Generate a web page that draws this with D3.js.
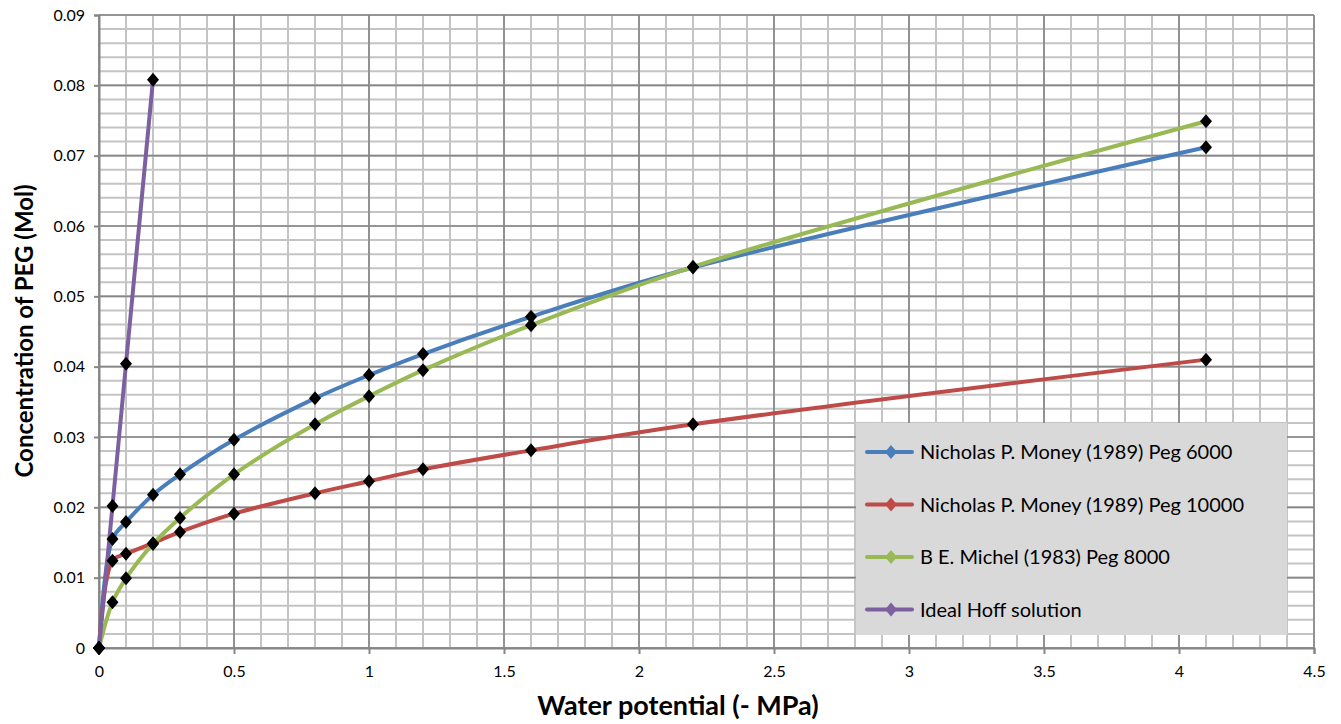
<!DOCTYPE html>
<html>
<head>
<meta charset="utf-8">
<script src="https://cdn.jsdelivr.net/npm/d3@7"></script>
<style>
  body { margin: 0; background: #fff; }
  svg { display: block; font-family: Lato, "Open Sans", sans-serif; }
</style>
</head>
<body>
<svg id="chart" width="1341" height="724"></svg>
<script>
const xPeg = [0, 0.05, 0.1, 0.2, 0.3, 0.5, 0.8, 1.0, 1.2, 1.6, 2.2, 4.1];
const peg6000 = [0, 0.0155, 0.0179, 0.0218, 0.0247, 0.0296, 0.0355, 0.0388, 0.0418, 0.0471, 0.0541, 0.0712];
const peg10000 = [0, 0.0124, 0.0134, 0.0149, 0.0165, 0.0191, 0.0220, 0.0237, 0.0254, 0.0281, 0.0318, 0.0410];
const peg8000 = [0, 0.0065, 0.0099, 0.0148, 0.0185, 0.0247, 0.0318, 0.0358, 0.0395, 0.0459, 0.0542, 0.0749];
const xHoff = [0, 0.05, 0.1, 0.2];
const hoff = [0, 0.0202, 0.0404, 0.0808];
const seriesNames = ["Nicholas P. Money (1989) Peg 6000", "Nicholas P. Money (1989) Peg 10000", "B E. Michel (1983) Peg 8000", "Ideal Hoff solution"];
const seriesColors = ["#4a7ebb", "#be4b48", "#98b954", "#7d60a0"];
const xTicks = [0, 0.5, 1, 1.5, 2, 2.5, 3, 3.5, 4, 4.5];
const yTicks = [0, 0.01, 0.02, 0.03, 0.04, 0.05, 0.06, 0.07, 0.08, 0.09];

const series = [
  {name: seriesNames[0], color: seriesColors[0], xs: xPeg, ys: peg6000},
  {name: seriesNames[1], color: seriesColors[1], xs: xPeg, ys: peg10000},
  {name: seriesNames[2], color: seriesColors[2], xs: xPeg, ys: peg8000},
  {name: seriesNames[3], color: seriesColors[3], xs: xHoff, ys: hoff}
];

const svg = d3.select("#chart");
const L = 99, R = 1314, T = 15, B = 648;
const x = d3.scaleLinear().domain([0, 4.5]).range([L, R]);
const y = d3.scaleLinear().domain([0, 0.09]).range([B, T]);

// minor grid
const minorX = d3.range(0, 4.5001, 0.1).map(v => +v.toFixed(2));
const minorY = d3.range(0, 0.09001, 0.002).map(v => +v.toFixed(4));
const g = svg.append("g");
g.selectAll(".mx").data(minorX).enter().append("line")
  .attr("x1", d => x(d)).attr("x2", d => x(d)).attr("y1", T).attr("y2", B)
  .attr("stroke", "#c4c4c4").attr("stroke-width", 2);
g.selectAll(".my").data(minorY).enter().append("line")
  .attr("x1", L).attr("x2", R).attr("y1", d => y(d)).attr("y2", d => y(d))
  .attr("stroke", "#c4c4c4").attr("stroke-width", 2);
// major grid
g.selectAll(".Mx").data(xTicks).enter().append("line")
  .attr("x1", d => x(d)).attr("x2", d => x(d)).attr("y1", T).attr("y2", B)
  .attr("stroke", "#868686").attr("stroke-width", 1.6);
g.selectAll(".My").data(yTicks).enter().append("line")
  .attr("x1", L).attr("x2", R).attr("y1", d => y(d)).attr("y2", d => y(d))
  .attr("stroke", "#868686").attr("stroke-width", 1.6);

// axes
const xAxis = svg.append("g").attr("transform", `translate(0,${B})`)
  .call(d3.axisBottom(x).tickValues(xTicks).tickSize(6).tickPadding(12).tickFormat(d3.format("")));
const yAxis = svg.append("g").attr("transform", `translate(${L},0)`)
  .call(d3.axisLeft(y).tickValues(yTicks).tickSize(5).tickPadding(9).tickFormat(d => d === 0 ? "0" : d3.format(".2f")(d)));
[xAxis, yAxis].forEach(a => {
  a.select(".domain").attr("stroke", "#868686").attr("stroke-width", 2);
  a.selectAll(".tick line").attr("stroke", "#868686").attr("stroke-width", 2);
  a.selectAll(".tick text").attr("fill", "#000").style("font-size", "16px").style("font-family", "Lato, sans-serif");
});

// lines
const line = d3.line().x(d => x(d[0])).y(d => y(d[1])).curve(d3.curveCatmullRom.alpha(0.5));
series.forEach(s => {
  const pts = s.xs.map((v, i) => [v, s.ys[i]]);
  svg.append("path").datum(pts).attr("d", line)
    .attr("fill", "none").attr("stroke", s.color).attr("stroke-width", 4).attr("stroke-linejoin", "round");
});
// markers
const diamond = "M0,-7 L6,0 L0,7 L-6,0 Z";
series.forEach(s => {
  svg.append("g").selectAll("path").data(s.xs.map((v, i) => [v, s.ys[i]])).enter().append("path")
    .attr("d", diamond).attr("transform", d => `translate(${x(d[0])},${y(d[1])})`)
    .attr("fill", "#000");
});

// legend
const lg = svg.append("g");
lg.append("rect").attr("x", 856).attr("y", 423).attr("width", 431).attr("height", 212).attr("fill", "#d9d9d9");
series.forEach((s, i) => {
  const yy = 452 + i * 52.5;
  lg.append("line").attr("x1", 867).attr("x2", 912).attr("y1", yy).attr("y2", yy)
    .attr("stroke", s.color).attr("stroke-width", 4).attr("stroke-linecap", "round");
  lg.append("path").attr("d", diamond).attr("transform", `translate(${891},${yy})`).attr("fill", s.color);
  lg.append("text").attr("x", 920).attr("y", yy).attr("dy", "0.35em")
    .style("font-size", "20px").attr("fill", "#000").text(s.name);
});

// axis titles
svg.append("text").attr("x", 678).attr("y", 715)
  .attr("text-anchor", "middle").style("font-size", "27px").style("font-weight", "bold")
  .text("Water potential (- MPa)");
svg.append("text").attr("transform", `translate(33,331) rotate(-90)`)
  .attr("text-anchor", "middle").style("font-size", "24px").style("font-weight", "bold")
  .text("Concentration of PEG (Mol)");
</script>
</body>
</html>
